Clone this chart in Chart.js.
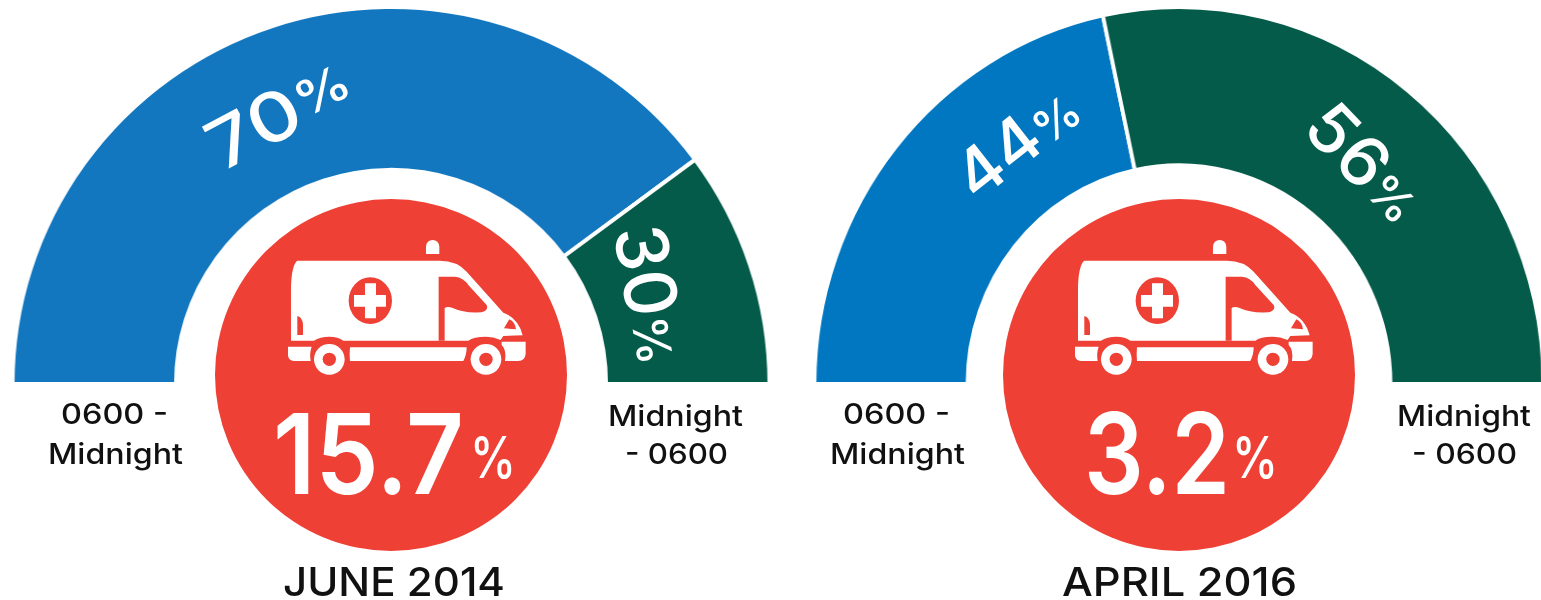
<!DOCTYPE html>
<html>
<head>
<meta charset="utf-8">
<script src="https://cdn.jsdelivr.net/npm/chart.js@4"></script>
<style>
  html, body { margin: 0; background: #fff; }
  #page { position: relative; width: 1541px; height: 600px; overflow: hidden; }
  canvas { position: absolute; top: 5px; }
  #chart2014 { left: 10px; transform: scaleX(1.004); transform-origin: 381px 0; }
  #chart2016 { left: 798px; transform: scaleX(0.967); transform-origin: 381px 0; }
  svg { position: absolute; left: 0; top: 0; }
  text { font-family: Inter, sans-serif; }
  .pct { fill: #fff; font-weight: 500; }
  .side { fill: #111; font-size: 29px; font-weight: 500; }
  .rate { fill: #fff; font-size: 112px; font-weight: 600; }
  .rateSign { fill: #fff; font-size: 58px; font-weight: 500; }
  .title { fill: #111; font-size: 40px; font-weight: 500; }
</style>
</head>
<body>
<div id="page">
  <canvas id="chart2014" width="762" height="381"></canvas>
  <canvas id="chart2016" width="762" height="381"></canvas>

  <svg width="1541" height="600" viewBox="0 0 1541 600">
    <defs>
      <g id="van">
        <path fill="#fff" d="M648 72 L648 50 Q650 30 668 30 Q686 30 688 50 L688 72 Z"/>
        <path fill="#fff" d="M243 332 L243 170 Q245 105 262 92 L690 92 Q740 92 770 125 L880 248 Q925 265 938 316 L880 318 L872 330 Q850 320 828 320 Q790 320 775 332 L400 332 Q385 320 358 320 Q330 320 312 332 Z"/>
        <path fill="#ee4035" d="M686 140 L735 140 Q760 142 775 165 L830 225 Q838 240 815 247 Q760 250 730 235 Q712 228 704 234 L704 332 L686 332 Z"/>
        <ellipse fill="#ee4035" cx="481" cy="212" rx="65" ry="70"/>
        <path fill="#fff" d="M465 160 H498 V195 H528 V230 H498 V265 H465 V230 H432 V195 H465 Z"/>
        <path fill="#ee4035" d="M262 258 Q278 262 279 285 L279 315 L262 315 Z"/>
        <path fill="#ee4035" d="M898 268 Q915 275 918 298 L882 295 Z"/>
        <path fill="#fff" d="M234 350 L305 350 Q298 370 302 393 L250 393 Q234 390 234 375 Z"/>
        <path fill="#fff" d="M420 352 L770 352 Q770 375 760 393 L420 393 Q418 370 420 352 Z"/>
        <path fill="#fff" d="M875 335 L947 335 L947 372 Q945 393 925 393 L885 393 Q890 360 875 345 Z"/>
        <circle fill="#ee4035" cx="358" cy="388" r="54"/>
        <circle fill="#ee4035" cx="828" cy="388" r="54"/>
        <circle fill="#fff" cx="358" cy="388" r="46"/>
        <circle fill="#fff" cx="828" cy="388" r="46"/>
        <circle fill="#ee4035" cx="358" cy="388" r="20"/>
        <circle fill="#ee4035" cx="828" cy="388" r="20"/>
      </g>
    </defs>

    <circle cx="391" cy="375" r="176" fill="#ee4035"/>
    <circle cx="1179" cy="375" r="176" fill="#ee4035"/>
    <use href="#van" transform="translate(210 230) scale(0.3333)"/>
    <use href="#van" transform="translate(997 230) scale(0.3333)"/>

    <text class="pct" transform="translate(222 172) rotate(-28) scale(1.2 1)" font-size="68">70<tspan font-size="48" dy="-8">%</tspan></text>
    <text class="pct" transform="translate(613 230) rotate(80)" font-size="72">30<tspan font-size="48" dy="-2">%</tspan></text>
    <text class="pct" transform="translate(976 203) rotate(-38) scale(1.05 1)" font-size="66">44<tspan font-size="46">%</tspan></text>
    <text class="pct" transform="translate(1300 130) rotate(46) scale(1.05 1)" font-size="68">56<tspan font-size="46" dy="-2">%</tspan></text>

    <text class="side" x="61" y="424" textLength="107" lengthAdjust="spacingAndGlyphs">0600 -</text>
    <text class="side" x="48" y="464" textLength="135" lengthAdjust="spacingAndGlyphs">Midnight</text>
    <text class="side" x="608" y="426" textLength="135" lengthAdjust="spacingAndGlyphs">Midnight</text>
    <text class="side" x="625" y="464" textLength="103" lengthAdjust="spacingAndGlyphs">- 0600</text>
    <text class="side" x="843" y="424" textLength="107" lengthAdjust="spacingAndGlyphs">0600 -</text>
    <text class="side" x="830" y="464" textLength="135" lengthAdjust="spacingAndGlyphs">Midnight</text>
    <text class="side" x="1397" y="426" textLength="134" lengthAdjust="spacingAndGlyphs">Midnight</text>
    <text class="side" x="1412" y="464" textLength="105" lengthAdjust="spacingAndGlyphs">- 0600</text>

    <text class="rate" x="273" y="494" textLength="191" lengthAdjust="spacingAndGlyphs">15.7</text>
    <text class="rateSign" x="470" y="478" textLength="46" lengthAdjust="spacingAndGlyphs">%</text>
    <text class="rate" x="1084" y="494" textLength="146" lengthAdjust="spacingAndGlyphs">3.2</text>
    <text class="rateSign" x="1232" y="478" textLength="46" lengthAdjust="spacingAndGlyphs">%</text>

    <text class="title" x="283" y="596" textLength="222" lengthAdjust="spacingAndGlyphs">JUNE 2014</text>
    <text class="title" x="1062" y="596" textLength="235" lengthAdjust="spacingAndGlyphs">APRIL 2016</text>
  </svg>
</div>

<script>
const periods = ["0600 - Midnight", "Midnight - 0600"];
const arcsJune2014 = [79.7, 20.3];
const arcsApril2016 = [43.3, 56.7];

const colorsJune2014 = ["#1277bf", "#045b49"];
const colorsApril2016 = ["#0077c0", "#045b49"];

function halfDoughnut(id, values, colors, cutout) {
    return new Chart(document.getElementById(id), {
        type: "doughnut",
        data: {
            labels: periods,
            datasets: [
                {
                    data: values,
                    backgroundColor: colors,
                    borderColor: "#fff",
                    borderWidth: 4
                }
            ]
        },
        options: {
            responsive: false,
            animation: false,
            rotation: -90,
            circumference: 180,
            cutout: cutout,
            plugins: {
                legend: { display: false },
                tooltip: { enabled: false }
            }
        }
    });
}

halfDoughnut("chart2014", arcsJune2014, colorsJune2014, "56.8%");
halfDoughnut("chart2016", arcsApril2016, colorsApril2016, "58%");
</script>
</body>
</html>
